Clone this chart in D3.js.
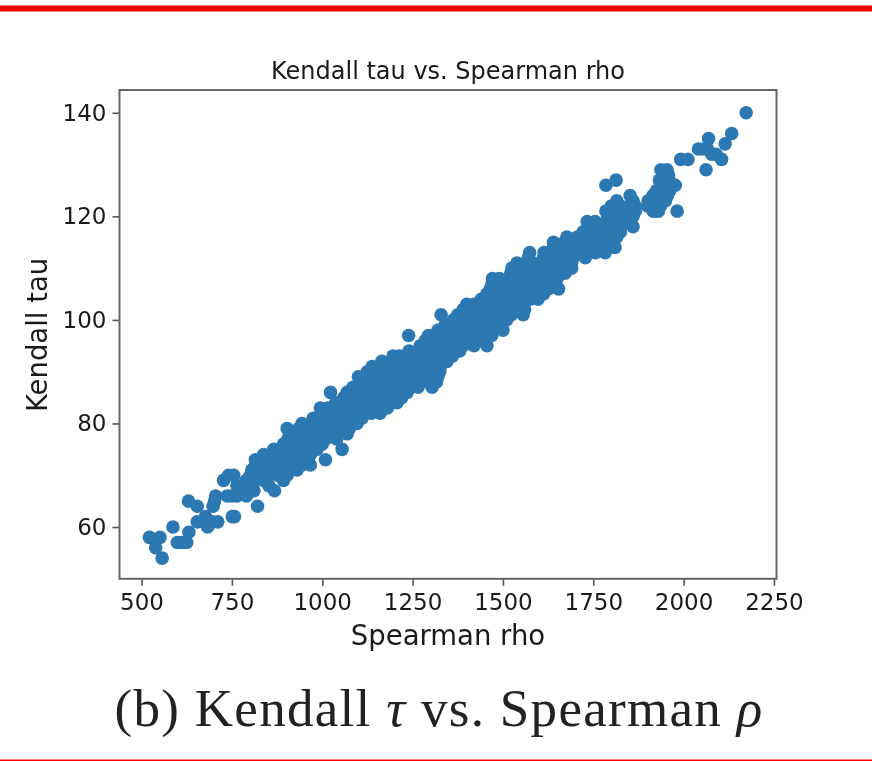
<!DOCTYPE html>
<html>
<head>
<meta charset="utf-8">
<script src="https://cdn.jsdelivr.net/npm/d3@7"></script>
<style>
    html, body { margin: 0; padding: 0; background: #fff; }
    svg { display: block; filter: blur(0.45px); }
    .tick text { font-family: "DejaVu Sans", sans-serif; font-size: 23px; fill: #1a1a1a; }
    .tick line { stroke: #555; stroke-width: 1.6; }
    .domain { display: none; }
    .axis-label { font-family: "DejaVu Sans", sans-serif; font-size: 27.5px; fill: #1a1a1a; }
    .chart-title { font-family: "DejaVu Sans", sans-serif; font-size: 24px; fill: #1a1a1a; }
    .caption { font-family: "Liberation Serif", serif; font-size: 53px; letter-spacing: 1.3px; fill: #222; }
</style>
</head>
<body>
<svg id="chart"></svg>
<script>
// Configuration
const config = {
    width: 872,
    height: 761,
    plot: { left: 119.5, right: 776.5, top: 90, bottom: 578.8 },
    pointRadius: 6.8,
    pointColor: '#2c78b2'
};

const xLimits = [439, 2257];
const yLimits = [50, 144.4];
const xTicks = [500, 750, 1000, 1250, 1500, 1750, 2000, 2250];
const yTicks = [60, 80, 100, 120, 140];

// Each row: Kendall tau value, then the Spearman rho values seen at that level
const lowerTail = [
    [54, [557]],
    [56, [539]],
    [57, [599, 612, 625]],
    [58, [522, 551]],
    [59, [631]],
    [60, [587, 683]],
    [61, [654, 672, 695, 711]],
    [62, [677, 751, 757]],
    [64, [654, 698, 821]],
    [65, [630, 702]],
    [66, [705, 737, 750, 764, 790]],
    [67, [770, 790, 811, 868]],
    [68, [764, 785, 806, 852]],
    [69, [727, 790, 815, 838, 893]],
    [70, [741, 755, 801, 826, 850, 876, 903]],
    [71, [805, 832, 858, 884, 908, 930]]
];

const denseBand = [
    [72, [815, 842, 868, 894, 920, 944, 967]],
    [73, [815, 834, 860, 886, 912, 936, 958, 1009]],
    [74, [838, 864, 890, 916, 942, 967]],
    [75, [866, 890, 914, 938, 962, 985, 1055]],
    [76, [893, 918, 944, 970, 1000]],
    [77, [905, 930, 956, 982, 1010, 1040]],
    [78, [930, 956, 984, 1012, 1040, 1069]],
    [79, [903, 935, 962, 990, 1018, 1046, 1075]],
    [80, [944, 972, 1000, 1028, 1056, 1096]],
    [81, [975, 1002, 1030, 1058, 1084, 1110]],
    [82, [1000, 1028, 1056, 1084, 1112, 1136, 1160]],
    [83, [995, 1015, 1044, 1072, 1100, 1128, 1154, 1180]],
    [84, [1037, 1064, 1092, 1120, 1148, 1178, 1207]],
    [85, [1060, 1088, 1116, 1144, 1172, 1198, 1220]],
    [86, [1023, 1069, 1096, 1124, 1152, 1180, 1208, 1235]],
    [87, [1085, 1112, 1140, 1168, 1196, 1224, 1246, 1265, 1304]],
    [88, [1105, 1132, 1160, 1188, 1216, 1244, 1272, 1294, 1316]],
    [89, [1100, 1130, 1158, 1186, 1214, 1242, 1270, 1298, 1320]],
    [90, [1125, 1152, 1180, 1208, 1236, 1264, 1296, 1325]],
    [91, [1138, 1166, 1194, 1222, 1250, 1278, 1304, 1327]],
    [92, [1165, 1192, 1220, 1248, 1276, 1304, 1326, 1345]],
    [93, [1196, 1214, 1242, 1270, 1298, 1330, 1360]],
    [94, [1240, 1268, 1296, 1324, 1352, 1380]],
    [95, [1271, 1298, 1326, 1354, 1390, 1420, 1456]],
    [96, [1285, 1312, 1340, 1368, 1396, 1418, 1440]],
    [97, [1239, 1294, 1322, 1350, 1378, 1406, 1438, 1469]],
    [98, [1320, 1348, 1376, 1404, 1432, 1466, 1500]],
    [99, [1340, 1368, 1396, 1424, 1456, 1492]],
    [100, [1363, 1390, 1418, 1446, 1478, 1510]],
    [101, [1329, 1375, 1402, 1430, 1458, 1490, 1524, 1556]],
    [102, [1390, 1418, 1446, 1474, 1502, 1532, 1560]],
    [103, [1400, 1420, 1448, 1476, 1504, 1532, 1556]],
    [104, [1440, 1468, 1496, 1524, 1552, 1575, 1597]],
    [105, [1455, 1482, 1510, 1538, 1566, 1594, 1612]],
    [106, [1465, 1492, 1520, 1548, 1576, 1600, 1626, 1654]],
    [107, [1470, 1498, 1526, 1554, 1582, 1604, 1620, 1640]],
    [108, [1471, 1490, 1518, 1546, 1568, 1590, 1618, 1650]],
    [109, [1522, 1550, 1578, 1606, 1640, 1672]],
    [110, [1525, 1552, 1580, 1608, 1636, 1664, 1690]],
    [111, [1539, 1584, 1612, 1640, 1668, 1690]],
    [112, [1570, 1612, 1640, 1666, 1695, 1728]],
    [113, [1574, 1614, 1640, 1668, 1696, 1724, 1756, 1783]],
    [114, [1640, 1668, 1696, 1724, 1752, 1782, 1810]],
    [115, [1640, 1670, 1700, 1730, 1760, 1790]]
];

const upperTail = [
    [116, [1677, 1706, 1736, 1766, 1796, 1815]],
    [117, [1722, 1750, 1778, 1806, 1825]],
    [118, [1736, 1764, 1792, 1826, 1860]],
    [119, [1733, 1755, 1785, 1820, 1852]],
    [120, [1790, 1815, 1840, 1860]],
    [121, [1785, 1812, 1840, 1866, 1916, 1930, 1982]],
    [122, [1800, 1826, 1850, 1866, 1900, 1918, 1936]],
    [123, [1815, 1860, 1902, 1926, 1950]],
    [124, [1852, 1915, 1936, 1955]],
    [125, [1925, 1944, 1962]],
    [126, [1785, 1940, 1958, 1977]],
    [127, [1813, 1933, 1960]],
    [128, [1948, 1958]],
    [129, [1937, 1954, 2062]],
    [131, [1992, 2012, 2105]],
    [132, [2078, 2090]],
    [133, [2041, 2055, 2066]],
    [134, [2115]],
    [135, [2069]],
    [136, [2133]],
    [140, [2173]]
];

// Flatten the rows into one list of points
const points = [...lowerTail, ...denseBand, ...upperTail]
    .flatMap(([tau, rhos]) => rhos.map(rho => ({ rho, tau })));

// Create SVG
const svg = d3.select('#chart')
    .attr('width', config.width)
    .attr('height', config.height);

const plot = config.plot;

const x = d3.scaleLinear().domain(xLimits).range([plot.left, plot.right]);
const y = d3.scaleLinear().domain(yLimits).range([plot.bottom, plot.top]);

// Red rules of the page the figure was cut from
svg.append('rect').attr('x', 0).attr('y', 5.5).attr('width', config.width).attr('height', 6).attr('fill', '#ff0000');
svg.append('rect').attr('x', 0).attr('y', 759.5).attr('width', config.width).attr('height', 1.5).attr('fill', '#ff0000');

// Draw points
svg.append('g')
    .selectAll('circle')
    .data(points)
    .enter()
    .append('circle')
    .attr('cx', d => x(d.rho))
    .attr('cy', d => y(d.tau))
    .attr('r', config.pointRadius)
    .attr('fill', config.pointColor);

// Axes
svg.append('g')
    .attr('transform', `translate(0, ${plot.bottom})`)
    .call(d3.axisBottom(x).tickValues(xTicks).tickFormat(d3.format('d')).tickSize(7).tickPadding(8));

svg.append('g')
    .attr('transform', `translate(${plot.left}, 0)`)
    .call(d3.axisLeft(y).tickValues(yTicks).tickFormat(d3.format('d')).tickSize(7).tickPadding(6));

// Frame
svg.append('rect')
    .attr('x', plot.left)
    .attr('y', plot.top)
    .attr('width', plot.right - plot.left)
    .attr('height', plot.bottom - plot.top)
    .attr('fill', 'none')
    .attr('stroke', '#666')
    .attr('stroke-width', 2);

// Labels
svg.append('text')
    .attr('class', 'chart-title')
    .attr('x', (plot.left + plot.right) / 2)
    .attr('y', 79)
    .attr('text-anchor', 'middle')
    .text('Kendall tau vs. Spearman rho');

svg.append('text')
    .attr('class', 'axis-label')
    .attr('x', (plot.left + plot.right) / 2)
    .attr('y', 645)
    .attr('text-anchor', 'middle')
    .text('Spearman rho');

svg.append('text')
    .attr('class', 'axis-label')
    .attr('transform', `translate(47, ${(plot.top + plot.bottom) / 2 + 0.5}) rotate(-90)`)
    .attr('text-anchor', 'middle')
    .text('Kendall tau');

const caption = svg.append('text')
    .attr('class', 'caption')
    .attr('x', 439)
    .attr('y', 726)
    .attr('text-anchor', 'middle');
caption.append('tspan').text('(b) Kendall ');
caption.append('tspan').attr('font-style', 'italic').text('τ');
caption.append('tspan').text(' vs. Spearman ');
caption.append('tspan').attr('font-style', 'italic').text('ρ');
</script>
</body>
</html>
